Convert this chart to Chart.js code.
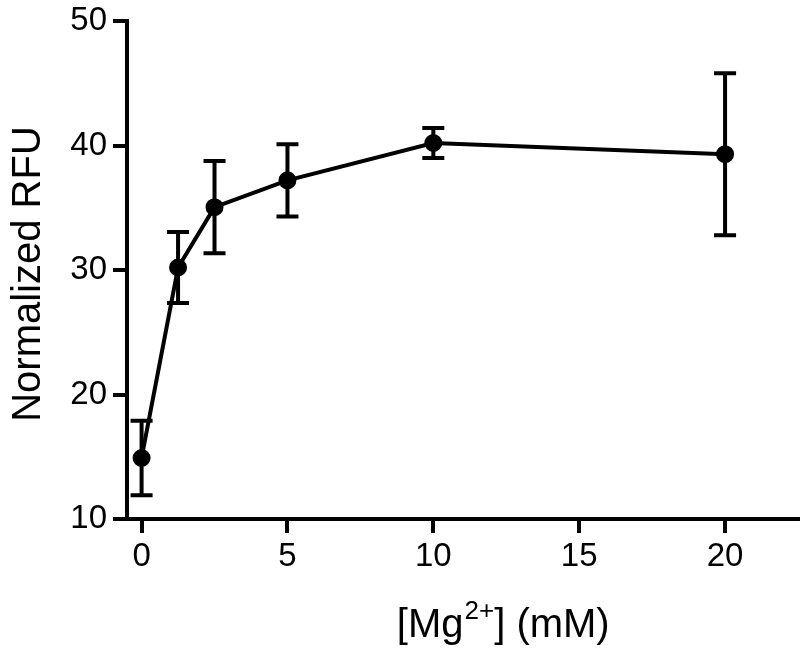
<!DOCTYPE html>
<html>
<head>
<meta charset="utf-8">
<script src="https://cdn.jsdelivr.net/npm/chart.js@4"></script>
<style>
  html, body { margin: 0; padding: 0; background: #fff; overflow: hidden; }
  canvas { display: block; }
</style>
</head>
<body>
<canvas id="mgChart" width="800" height="654"></canvas>
<script>
// ------- Data -------
const mgConc = [0, 1.25, 2.5, 5, 10, 20];          // [Mg2+] mM
const meanRFU = [14.9, 30.2, 35.05, 37.2, 40.2, 39.3];
const errRFU = [3.0, 2.85, 3.7, 2.9, 1.2, 6.5];
const xTicks = [0, 5, 10, 15, 20];
const yTicks = [10, 20, 30, 40, 50];

const yTitle = 'Normalized RFU';
const xTitleParts = ['[Mg', '2+', '] (mM)'];        // middle part is superscript

const FONT = '"Liberation Sans", Arial, Helvetica, sans-serif';

// ------- Plugins -------
const errorBars = {
  id: 'errorBars',
  afterDatasetsDraw(chart) {
    const { ctx, scales: { x, y } } = chart;
    ctx.save();
    ctx.strokeStyle = '#000';
    ctx.lineWidth = 4;
    mgConc.forEach((xv, i) => {
      const px = x.getPixelForValue(xv);
      const top = y.getPixelForValue(meanRFU[i] + errRFU[i]);
      const bot = y.getPixelForValue(meanRFU[i] - errRFU[i]);
      ctx.beginPath();
      ctx.moveTo(px, top); ctx.lineTo(px, bot);
      ctx.moveTo(px - 11, top); ctx.lineTo(px + 11, top);
      ctx.moveTo(px - 11, bot); ctx.lineTo(px + 11, bot);
      ctx.stroke();
    });
    ctx.restore();
  }
};

const axisTitles = {
  id: 'axisTitles',
  afterDraw(chart) {
    const { ctx, chartArea } = chart;
    ctx.save();
    ctx.fillStyle = '#000';

    // y title, rotated
    ctx.font = '40px ' + FONT;
    ctx.textAlign = 'center';
    ctx.textBaseline = 'alphabetic';
    ctx.save();
    ctx.translate(40, (chartArea.top + chartArea.bottom) / 2 + 4);
    ctx.rotate(-Math.PI / 2);
    ctx.fillText(yTitle, 0, 0);
    ctx.restore();

    // x title with superscript
    const mainFont = '40px ' + FONT;
    const supFont = '26px ' + FONT;
    ctx.textAlign = 'left';
    ctx.font = mainFont;
    const w0 = ctx.measureText(xTitleParts[0]).width;
    const w2 = ctx.measureText(xTitleParts[2]).width;
    ctx.font = supFont;
    const w1 = ctx.measureText(xTitleParts[1]).width;
    const total = w0 + w1 + w2;
    const cx = chartArea.left + 0.56 * (chartArea.right - chartArea.left);
    const baseY = chartArea.bottom + 118;
    let tx = cx - total / 2;
    ctx.font = mainFont;
    ctx.fillText(xTitleParts[0], tx, baseY);
    tx += w0;
    ctx.font = supFont;
    ctx.fillText(xTitleParts[1], tx + 1, baseY - 18);
    tx += w1 + 1;
    ctx.font = mainFont;
    ctx.fillText(xTitleParts[2], tx, baseY);
    ctx.restore();
  }
};

// ------- Chart -------
const ctx = document.getElementById('mgChart').getContext('2d');

new Chart(ctx, {
  type: 'scatter',
  data: {
    datasets: [{
      label: 'RFU',
      data: mgConc.map((xv, i) => ({ x: xv, y: meanRFU[i] })),
      showLine: true,
      borderColor: '#000',
      borderWidth: 4,
      backgroundColor: '#000',
      pointRadius: 7,
      pointHoverRadius: 7,
      tension: 0
    }]
  },
  options: {
    responsive: false,
    animation: false,
    layout: { autoPadding: false, padding: { top: 21, right: 2, left: 0, bottom: 0 } },
    plugins: {
      legend: { display: false },
      tooltip: { enabled: false }
    },
    scales: {
      x: {
        type: 'linear',
        min: -0.5,
        max: 22.5,
        afterBuildTicks: s => { s.ticks = xTicks.map(v => ({ value: v })); },
        afterFit: s => { s.height = 135; s.paddingLeft = 0; s.paddingRight = 0; },
        border: { display: true, color: '#000', width: 4 },
        grid: { drawOnChartArea: false, drawTicks: true, tickLength: 14, color: '#000', lineWidth: 4 },
        ticks: { color: '#000', padding: 4, font: { family: FONT, size: 33 }, maxRotation: 0 }
      },
      y: {
        type: 'linear',
        min: 10,
        max: 50,
        afterBuildTicks: s => { s.ticks = yTicks.map(v => ({ value: v })); },
        afterFit: s => { s.width = 127; s.paddingTop = 0; s.paddingBottom = 0; },
        border: { display: true, color: '#000', width: 4 },
        grid: { drawOnChartArea: false, drawTicks: true, tickLength: 14, color: '#000', lineWidth: 4 },
        ticks: { color: '#000', padding: 6, font: { family: FONT, size: 33 } }
      }
    }
  },
  plugins: [errorBars, axisTitles]
});
</script>
</body>
</html>
